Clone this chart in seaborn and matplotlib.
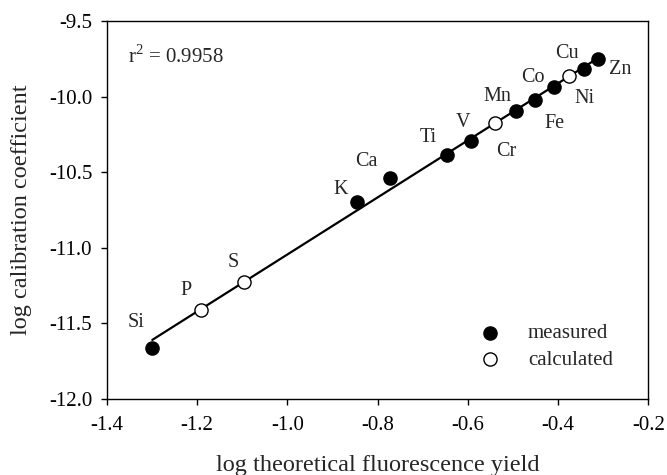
import numpy as np
import pandas as pd
import matplotlib
matplotlib.use('Agg')
import matplotlib.pyplot as plt
import seaborn as sns

# values
elements = ['Si', 'P', 'S', 'K', 'Ca', 'Ti', 'V', 'Cr', 'Mn', 'Fe', 'Co', 'Ni', 'Cu', 'Zn']
log_yield = [-1.299, -1.192, -1.096, -0.845, -0.773, -0.647, -0.593, -0.540,
             -0.493, -0.451, -0.410, -0.375, -0.342, -0.312]
log_coef = [-11.66, -11.41, -11.225, -10.70, -10.54, -10.385, -10.292, -10.178,
            -10.095, -10.025, -9.94, -9.866, -9.82, -9.752]
kind = ['measured', 'calculated', 'calculated', 'measured', 'measured', 'measured',
        'measured', 'calculated', 'measured', 'measured', 'measured', 'calculated',
        'measured', 'measured']
# label offsets in pixels (dx, dy) from each point
label_dx = [-16, -15, -11, -17, -23, -18, -8, 11, -19, 19, -21, 15, -17, 22]
label_dy = [25, 19, 19, 13, 17, 17, 18, -28, 14, -23, 10, -22, 16, -10]

df = pd.DataFrame({'element': elements, 'x': log_yield, 'y': log_coef, 'kind': kind})

sns.set_style('ticks')
plt.rcParams['font.family'] = ['Liberation Serif', 'DejaVu Serif']
plt.rcParams['axes.unicode_minus'] = False
plt.rcParams['mathtext.fontset'] = 'custom'
plt.rcParams['mathtext.rm'] = 'Liberation Serif'

fig, ax = plt.subplots(figsize=(6.67, 4.75), dpi=100)
fig.subplots_adjust(left=0.160, right=0.972, top=0.956, bottom=0.160)

# fitted line
sns.regplot(data=df, x='x', y='y', scatter=False, ci=None, ax=ax,
            line_kws={'color': 'black', 'lw': 1.6, 'zorder': 1})

meas = df[df['kind'] == 'measured']
calc = df[df['kind'] == 'calculated']
sns.scatterplot(data=meas, x='x', y='y', ax=ax, color='black', edgecolor='black',
                s=90, linewidth=1, label='measured', zorder=3)
sns.scatterplot(data=calc, x='x', y='y', ax=ax, color='white', edgecolor='black',
                s=90, linewidth=1, label='calculated', zorder=3)

for i, row in df.iterrows():
    ax.annotate(row['element'], (row['x'], row['y']), xytext=(label_dx[i], label_dy[i]),
                textcoords='offset pixels', ha='center', va='center', fontsize=14.5)

ax.text(0.039, 0.905, r'r$^2$ = 0.9958', transform=ax.transAxes, fontsize=15,
        ha='left', va='center')

ax.set_xlim(-1.4, -0.2)
ax.set_ylim(-12.0, -9.5)
ax.set_xticks(np.arange(-1.4, -0.19, 0.2))
ax.set_yticks(np.arange(-12.0, -9.49, 0.5))
ax.xaxis.set_major_formatter(matplotlib.ticker.FormatStrFormatter('%.1f'))
ax.yaxis.set_major_formatter(matplotlib.ticker.FormatStrFormatter('%.1f'))
ax.tick_params(direction='out', length=4.5, width=1, labelsize=15, colors='black')
ax.tick_params(axis='x', pad=8)
ax.tick_params(axis='y', pad=6)
for sp in ax.spines.values():
    sp.set_visible(True)
    sp.set_color('black')
    sp.set_linewidth(1)

ax.set_xlabel('log theoretical fluorescence yield', fontsize=17.5, labelpad=14)
ax.set_ylabel('log calibration coefficient', fontsize=17.5, labelpad=12)

ax.legend(loc='lower right', bbox_to_anchor=(0.95, 0.055), frameon=False, fontsize=15,
          handletextpad=0.8, labelspacing=0.35, borderaxespad=0)

fig.savefig('out.png', dpi=100)
